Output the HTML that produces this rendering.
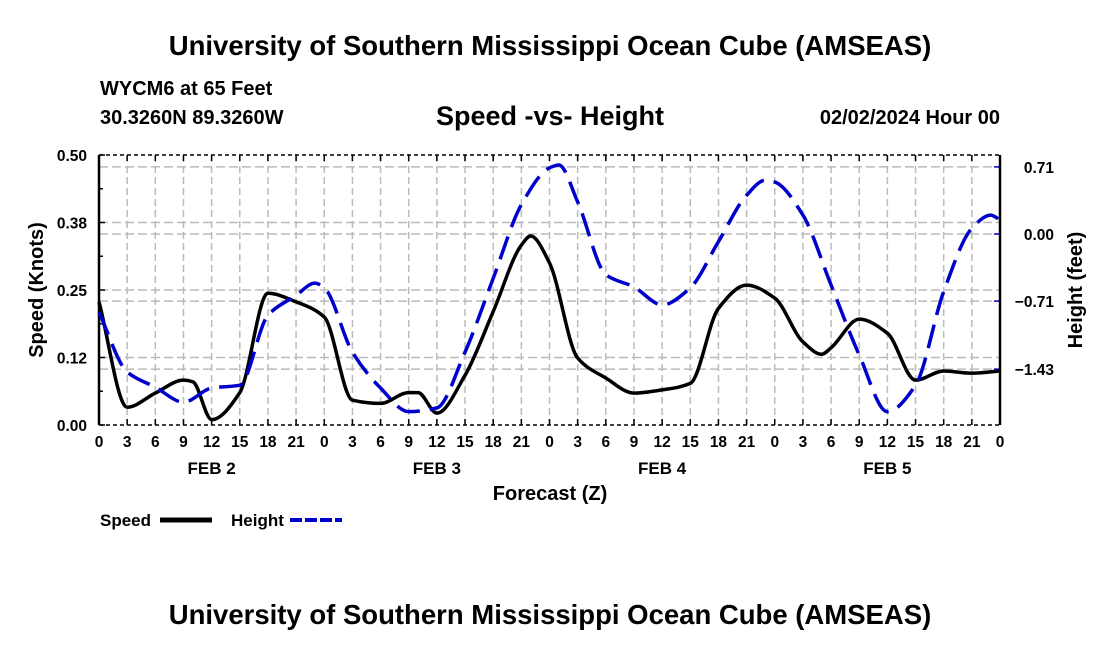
<!DOCTYPE html>
<html><head><meta charset="utf-8"><style>
body{margin:0;background:#fff;}
svg{display:block;font-family:"Liberation Sans",sans-serif;font-weight:bold;}
</style></head><body>
<svg id="c" width="1100" height="650">
<text x="550" y="55" text-anchor="middle" font-size="27.5">University of Southern Mississippi Ocean Cube (AMSEAS)</text>
<text x="100" y="95" font-size="20">WYCM6 at 65 Feet</text>
<text x="100" y="124" font-size="20">30.3260N  89.3260W</text>
<text x="550" y="125" text-anchor="middle" font-size="27">Speed -vs- Height</text>
<text x="1000" y="124" text-anchor="end" font-size="20">02/02/2024 Hour 00</text>
<g id="grid"></g><g id="axes"></g><g id="series"></g>
<text transform="translate(43,290) rotate(-90)" text-anchor="middle" font-size="20">Speed (Knots)</text>
<text transform="translate(1082,290) rotate(-90)" text-anchor="middle" font-size="20">Height (feet)</text>
<text x="550" y="500" text-anchor="middle" font-size="20">Forecast (Z)</text>
<g>
<text x="100" y="526" font-size="17">Speed</text>
<line x1="160" y1="520" x2="212" y2="520" stroke="#000" stroke-width="5"/>
<text x="231" y="526" font-size="17">Height</text>
<line x1="290" y1="520" x2="342" y2="520" stroke="#00c" stroke-width="4" stroke-dasharray="12,3"/>
</g>
<text x="550" y="624" text-anchor="middle" font-size="27.5">University of Southern Mississippi Ocean Cube (AMSEAS)</text>
</svg>
<script>
const speedHours=[0,3,6,9,10,12,15,18,21,24,27,30,33,34,36,39,42,45,46,48,51,54,57,60,63,66,69,72,75,77,78,81,84,87,90,93,96];
const speedVals=[0.228,0.033,0.059,0.083,0.08,0.01,0.06,0.244,0.228,0.2,0.046,0.04,0.06,0.06,0.022,0.092,0.21,0.333,0.35,0.30,0.124,0.087,0.059,0.065,0.077,0.216,0.259,0.235,0.154,0.131,0.143,0.196,0.170,0.083,0.1,0.096,0.1];
const heightHours=[0,3,6,9,12,15,18,21,23,24,27,30,33,36,39,42,45,48,49,51,54,57,60,63,66,69,71,72,75,78,81,84,87,90,93,95,96];
const heightVals=[-0.83,-1.46,-1.62,-1.78,-1.63,-1.60,-0.86,-0.65,-0.52,-0.57,-1.25,-1.63,-1.88,-1.84,-1.25,-0.47,0.31,0.70,0.73,0.34,-0.43,-0.56,-0.75,-0.57,-0.08,0.41,0.57,0.55,0.2,-0.54,-1.28,-1.88,-1.60,-0.61,0.06,0.2,0.15];
const speedTicks=[0,0.125,0.25,0.375,0.5];
const speedTickLabels=["0.00","0.12","0.25","0.38","0.50"];
const heightTicks=[0.71,0,-0.71,-1.43];
const heightTickLabels=["0.71","0.00","\u22120.71","\u22121.43"];
const dayLabels=["FEB 2","FEB 3","FEB 4","FEB 5"];
const X0=99,X1=1000,YT=155,YB=425;
const xs=h=>X0+(X1-X0)*h/96;
const ys=v=>YB-(YB-YT)*v/0.5;
const yh=v=>234-94.5*v;
const NS="http://www.w3.org/2000/svg";
function mk(p,t,a){const e=document.createElementNS(NS,t);for(const k in a)e.setAttribute(k,a[k]);p.appendChild(e);return e;}
const grid=document.getElementById('grid'),axes=document.getElementById('axes'),ser=document.getElementById('series');
for(let h=0;h<=96;h+=3){
  const x=xs(h);
  if(h>0&&h<96){const l=mk(grid,'line',{x1:x,y1:YT,x2:x,y2:YB,stroke:'#bbb','stroke-width':1.5,'stroke-dasharray':'7,4'});
  
  }
  const t=mk(axes,'line',{x1:x,y1:YB,x2:x,y2:YB-6,stroke:'#000','stroke-width':1.5});
  
  
  mk(axes,'line',{x1:x,y1:YT,x2:x,y2:YT+6,stroke:'#000','stroke-width':1.5});
  const tx=mk(axes,'text',{x:x,y:YB+22,'text-anchor':'middle','font-size':15.5});
  tx.textContent=String(h%24);
  
  
}
dayLabels.forEach((d,i)=>{const t=mk(axes,'text',{x:xs(12+24*i),y:YB+49,'text-anchor':'middle','font-size':17});t.textContent=d;

});
speedTicks.forEach((v,i)=>{const y=ys(v);
  if(v>0&&v<0.5){const l=mk(grid,'line',{x1:X0,y1:y,x2:X1,y2:y,stroke:'#bbb','stroke-width':1.5,'stroke-dasharray':'9,4'});
  
  }
  mk(axes,'line',{x1:X0,y1:y,x2:X0+6,y2:y,stroke:'#000','stroke-width':1.5});
  const t=mk(axes,'text',{x:87,y:y+6,'text-anchor':'end','font-size':15.5});t.textContent=speedTickLabels[i];
  
  });
for(let v=0.0625;v<0.5;v+=0.125)mk(axes,'line',{x1:X0,y1:ys(v),x2:X0+4,y2:ys(v),stroke:'#000','stroke-width':1.5});
heightTicks.forEach((v,i)=>{const y=yh(v);
  const l=mk(grid,'line',{x1:X0,y1:y,x2:X1,y2:y,stroke:'#bbb','stroke-width':1.5,'stroke-dasharray':'9,4'});
  
  
  mk(axes,'line',{x1:X1,y1:y,x2:X1-6,y2:y,stroke:'#00c','stroke-width':1.5});
  const t=mk(axes,'text',{x:1054,y:y+6,'text-anchor':'end','font-size':15.5});t.textContent=heightTickLabels[i];
  
  });
mk(axes,'line',{x1:X0,y1:YT,x2:X0,y2:YB,stroke:'#000','stroke-width':2.5});
mk(axes,'line',{x1:X1,y1:YT,x2:X1,y2:YB,stroke:'#000','stroke-width':2.5});
mk(axes,'line',{x1:X0,y1:YT,x2:X1,y2:YT,stroke:'#000','stroke-width':1.5,'stroke-dasharray':'4,3'});
mk(axes,'line',{x1:X0,y1:YB,x2:X1,y2:YB,stroke:'#000','stroke-width':1.5,'stroke-dasharray':'4,3'});
function path(hs,vs,fy){
  const p=hs.map((h,i)=>[xs(h),fy(vs[i])]);const n=p.length;
  const d=[],m=[];
  for(let i=0;i<n-1;i++)d.push((p[i+1][1]-p[i][1])/(p[i+1][0]-p[i][0]));
  for(let i=0;i<n;i++){
    if(i==0)m.push(d[0]);else if(i==n-1)m.push(d[n-2]);
    else if(d[i-1]*d[i]<=0)m.push(0);
    else{const w1=2*(p[i+1][0]-p[i][0])+(p[i][0]-p[i-1][0]),w2=(p[i+1][0]-p[i][0])+2*(p[i][0]-p[i-1][0]);
      m.push((w1+w2)/(w1/d[i-1]+w2/d[i]));}
  }
  let s='M'+p[0][0]+','+p[0][1];
  for(let i=0;i<n-1;i++){const h=(p[i+1][0]-p[i][0])/3;
    s+=` C${p[i][0]+h},${p[i][1]+m[i]*h} ${p[i+1][0]-h},${p[i+1][1]-m[i+1]*h} ${p[i+1][0]},${p[i+1][1]}`;}
  return s;}
const sp=mk(ser,'path',{d:path(speedHours,speedVals,ys),fill:'none',stroke:'#000','stroke-width':3.5});


const hp=mk(ser,'path',{d:path(heightHours,heightVals,yh),fill:'none',stroke:'#00c','stroke-width':3.5,'stroke-dasharray':'24,10'});


</script>
</body></html>
